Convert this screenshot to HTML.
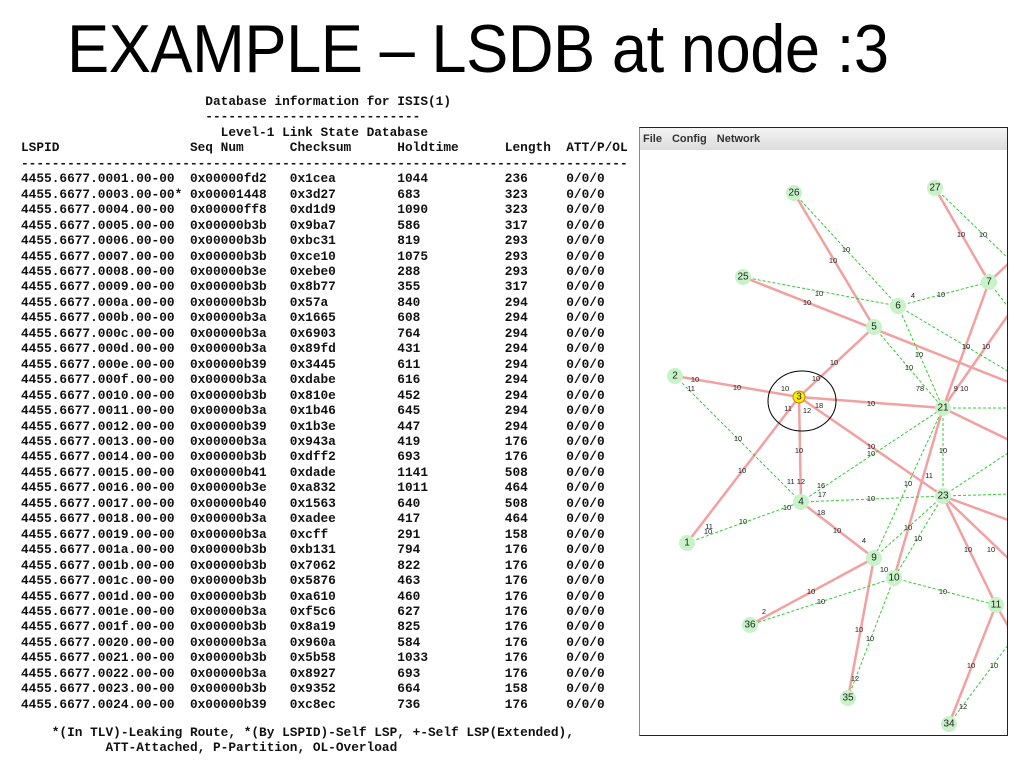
<!DOCTYPE html>
<html><head><meta charset="utf-8"><style>
body{margin:0;width:1024px;height:768px;background:#fff;position:relative;overflow:hidden}
.t{position:absolute;left:67px;top:10px;font:68px "Liberation Sans",sans-serif;color:#000;white-space:nowrap;letter-spacing:-0.5px;transform:scaleX(0.93);transform-origin:0 0}
pre{position:absolute;margin:0;font:bold 12.8px/15.45px "Liberation Mono",monospace;color:#111}
.panel{position:absolute;left:639px;top:127px;width:367px;height:607px;border:1px solid #222;border-left:1px solid #888;overflow:hidden;background:#fff}
.menu{height:22px;background:linear-gradient(#f4f4f4,#dcdcdc);font:bold 11px "Liberation Sans",sans-serif;color:#333;padding-left:3px;line-height:22px}
.menu span{margin-right:10px}
</style></head><body>
<div class="t">EXAMPLE – LSDB at node :3</div>
<pre style="left:21px;top:94px">                        Database information for ISIS(1)
                        ----------------------------
                          Level-1 Link State Database
LSPID                 Seq Num      Checksum      Holdtime      Length  ATT/P/OL
-------------------------------------------------------------------------------
4455.6677.0001.00-00  0x00000fd2   0x1cea        1044          236     0/0/0
4455.6677.0003.00-00* 0x00001448   0x3d27        683           323     0/0/0
4455.6677.0004.00-00  0x00000ff8   0xd1d9        1090          323     0/0/0
4455.6677.0005.00-00  0x00000b3b   0x9ba7        586           317     0/0/0
4455.6677.0006.00-00  0x00000b3b   0xbc31        819           293     0/0/0
4455.6677.0007.00-00  0x00000b3b   0xce10        1075          293     0/0/0
4455.6677.0008.00-00  0x00000b3e   0xebe0        288           293     0/0/0
4455.6677.0009.00-00  0x00000b3b   0x8b77        355           317     0/0/0
4455.6677.000a.00-00  0x00000b3b   0x57a         840           294     0/0/0
4455.6677.000b.00-00  0x00000b3a   0x1665        608           294     0/0/0
4455.6677.000c.00-00  0x00000b3a   0x6903        764           294     0/0/0
4455.6677.000d.00-00  0x00000b3a   0x89fd        431           294     0/0/0
4455.6677.000e.00-00  0x00000b39   0x3445        611           294     0/0/0
4455.6677.000f.00-00  0x00000b3a   0xdabe        616           294     0/0/0
4455.6677.0010.00-00  0x00000b3b   0x810e        452           294     0/0/0
4455.6677.0011.00-00  0x00000b3a   0x1b46        645           294     0/0/0
4455.6677.0012.00-00  0x00000b39   0x1b3e        447           294     0/0/0
4455.6677.0013.00-00  0x00000b3a   0x943a        419           176     0/0/0
4455.6677.0014.00-00  0x00000b3b   0xdff2        693           176     0/0/0
4455.6677.0015.00-00  0x00000b41   0xdade        1141          508     0/0/0
4455.6677.0016.00-00  0x00000b3e   0xa832        1011          464     0/0/0
4455.6677.0017.00-00  0x00000b40   0x1563        640           508     0/0/0
4455.6677.0018.00-00  0x00000b3a   0xadee        417           464     0/0/0
4455.6677.0019.00-00  0x00000b3a   0xcff         291           158     0/0/0
4455.6677.001a.00-00  0x00000b3b   0xb131        794           176     0/0/0
4455.6677.001b.00-00  0x00000b3b   0x7062        822           176     0/0/0
4455.6677.001c.00-00  0x00000b3b   0x5876        463           176     0/0/0
4455.6677.001d.00-00  0x00000b3b   0xa610        460           176     0/0/0
4455.6677.001e.00-00  0x00000b3a   0xf5c6        627           176     0/0/0
4455.6677.001f.00-00  0x00000b3b   0x8a19        825           176     0/0/0
4455.6677.0020.00-00  0x00000b3a   0x960a        584           176     0/0/0
4455.6677.0021.00-00  0x00000b3b   0x5b58        1033          176     0/0/0
4455.6677.0022.00-00  0x00000b3a   0x8927        693           176     0/0/0
4455.6677.0023.00-00  0x00000b3b   0x9352        664           158     0/0/0
4455.6677.0024.00-00  0x00000b39   0xc8ec        736           176     0/0/0</pre>
<pre style="left:21px;top:725px">    *(In TLV)-Leaking Route, *(By LSPID)-Self LSP, +-Self LSP(Extended),
           ATT-Attached, P-Partition, OL-Overload</pre>
<div class="panel"><div class="menu"><span>File</span><span>Config</span><span>Network</span></div>
<svg style="position:absolute;left:0;top:0" width="368" height="607" viewBox="639 127 368 607">
<g stroke="#f2a0a0" stroke-width="2.5" fill="none">
<line x1="793" y1="192" x2="873" y2="326"/>
<line x1="742" y1="276" x2="1010" y2="382"/>
<line x1="934" y1="187" x2="988" y2="281"/>
<line x1="873" y1="326" x2="798" y2="396"/>
<line x1="674" y1="375" x2="798" y2="396"/>
<line x1="798" y1="396" x2="942" y2="407"/>
<line x1="798" y1="396" x2="800" y2="501"/>
<line x1="798" y1="396" x2="686" y2="542"/>
<line x1="798" y1="396" x2="942" y2="495"/>
<line x1="988" y1="281" x2="942" y2="407"/>
<line x1="988" y1="281" x2="1010" y2="260"/>
<line x1="942" y1="407" x2="893" y2="577"/>
<line x1="942" y1="407" x2="1010" y2="440"/>
<line x1="942" y1="407" x2="1010" y2="310"/>
<line x1="800" y1="501" x2="873" y2="557"/>
<line x1="873" y1="557" x2="749" y2="624"/>
<line x1="873" y1="557" x2="847" y2="697"/>
<line x1="942" y1="495" x2="995" y2="604"/>
<line x1="942" y1="495" x2="1010" y2="520"/>
<line x1="942" y1="495" x2="1010" y2="560"/>
<line x1="995" y1="604" x2="948" y2="723"/>
<line x1="995" y1="604" x2="1010" y2="630"/>
</g>
<g stroke="#33cc33" stroke-width="1" stroke-dasharray="3,2" fill="none">
<line x1="793" y1="192" x2="897" y2="305"/>
<line x1="934" y1="187" x2="1010" y2="260"/>
<line x1="742" y1="276" x2="897" y2="305"/>
<line x1="897" y1="305" x2="988" y2="281"/>
<line x1="897" y1="305" x2="942" y2="407"/>
<line x1="897" y1="305" x2="1010" y2="372"/>
<line x1="873" y1="326" x2="942" y2="407"/>
<line x1="988" y1="281" x2="1010" y2="310"/>
<line x1="674" y1="375" x2="800" y2="501"/>
<line x1="686" y1="542" x2="800" y2="501"/>
<line x1="800" y1="501" x2="942" y2="495"/>
<line x1="800" y1="501" x2="942" y2="407"/>
<line x1="942" y1="407" x2="1010" y2="407"/>
<line x1="942" y1="407" x2="942" y2="495"/>
<line x1="942" y1="495" x2="873" y2="557"/>
<line x1="942" y1="495" x2="893" y2="577"/>
<line x1="942" y1="407" x2="873" y2="557"/>
<line x1="942" y1="495" x2="1010" y2="493"/>
<line x1="942" y1="495" x2="1010" y2="450"/>
<line x1="893" y1="577" x2="995" y2="604"/>
<line x1="893" y1="577" x2="749" y2="624"/>
<line x1="893" y1="577" x2="847" y2="697"/>
<line x1="948" y1="723" x2="1010" y2="640"/>
</g>
<ellipse cx="801" cy="400" rx="34" ry="30" fill="none" stroke="#000" stroke-width="1"/>
<g fill="#c8f2c8">
<circle cx="793" cy="192" r="8"/><circle cx="934" cy="187" r="8"/><circle cx="742" cy="276" r="8"/>
<circle cx="897" cy="305" r="8"/><circle cx="988" cy="281" r="8"/><circle cx="873" cy="326" r="8"/>
<circle cx="674" cy="375" r="8"/><circle cx="942" cy="407" r="8"/><circle cx="800" cy="501" r="8"/>
<circle cx="686" cy="542" r="8"/><circle cx="942" cy="495" r="8"/><circle cx="873" cy="557" r="8"/>
<circle cx="893" cy="577" r="8"/><circle cx="995" cy="604" r="8"/><circle cx="749" cy="624" r="8"/>
<circle cx="847" cy="697" r="8"/><circle cx="948" cy="723" r="8"/>
</g>
<circle cx="798" cy="396" r="6" fill="#ffee00" stroke="#c08000"/>
<g font-family="Liberation Sans,sans-serif" font-size="10" fill="#222" text-anchor="middle" dominant-baseline="central">
<text x="793" y="192">26</text><text x="934" y="187">27</text><text x="742" y="276">25</text>
<text x="897" y="305">6</text><text x="988" y="281">7</text><text x="873" y="326">5</text>
<text x="674" y="375">2</text><text x="798" y="396">3</text><text x="942" y="407">21</text>
<text x="800" y="501">4</text><text x="686" y="542">1</text><text x="942" y="495">23</text>
<text x="873" y="557">9</text><text x="893" y="577">10</text><text x="995" y="604">11</text>
<text x="749" y="624">36</text><text x="847" y="697">35</text><text x="948" y="723">34</text>
</g>
<g font-family="Liberation Sans,sans-serif" font-size="7.5" fill="#222" text-anchor="middle">
<text x="845" y="251">10</text><text x="832" y="262">10</text><text x="960" y="236">10</text><text x="982" y="236">10</text>
<text x="818" y="295">10</text><text x="806" y="304">10</text><text x="940" y="296">10</text><text x="912" y="297">4</text>
<text x="833" y="364">10</text><text x="815" y="380">10</text><text x="736" y="389">10</text><text x="694" y="381">10</text>
<text x="690" y="390">11</text><text x="784" y="390">10</text><text x="870" y="405">10</text><text x="787" y="410">11</text>
<text x="806" y="412">12</text><text x="818" y="407">18</text><text x="965" y="348">10</text><text x="985" y="348">10</text>
<text x="918" y="356">10</text><text x="908" y="369">10</text><text x="919" y="390">78</text><text x="960" y="390">9 10</text>
<text x="737" y="440">10</text><text x="798" y="452">10</text><text x="870" y="448">10</text><text x="870" y="455">10</text>
<text x="942" y="452">10</text><text x="741" y="472">10</text><text x="795" y="483">11 12</text><text x="820" y="487">16</text>
<text x="821" y="496">17</text><text x="870" y="500">10</text><text x="907" y="485">10</text><text x="928" y="477">11</text>
<text x="786" y="509">10</text><text x="820" y="514">18</text><text x="742" y="523">10</text><text x="708" y="528">11</text>
<text x="707" y="533">10</text><text x="836" y="532">10</text><text x="863" y="542">4</text><text x="907" y="529">10</text>
<text x="917" y="540">10</text><text x="967" y="551">10</text><text x="990" y="551">10</text><text x="883" y="571">10</text>
<text x="942" y="593">10</text><text x="810" y="593">10</text><text x="820" y="603">10</text><text x="763" y="613">2</text>
<text x="858" y="631">10</text><text x="869" y="640">10</text><text x="970" y="667">10</text><text x="993" y="667">10</text>
<text x="854" y="680">12</text><text x="962" y="708">12</text>
</g>
</svg></div>
</body></html>
